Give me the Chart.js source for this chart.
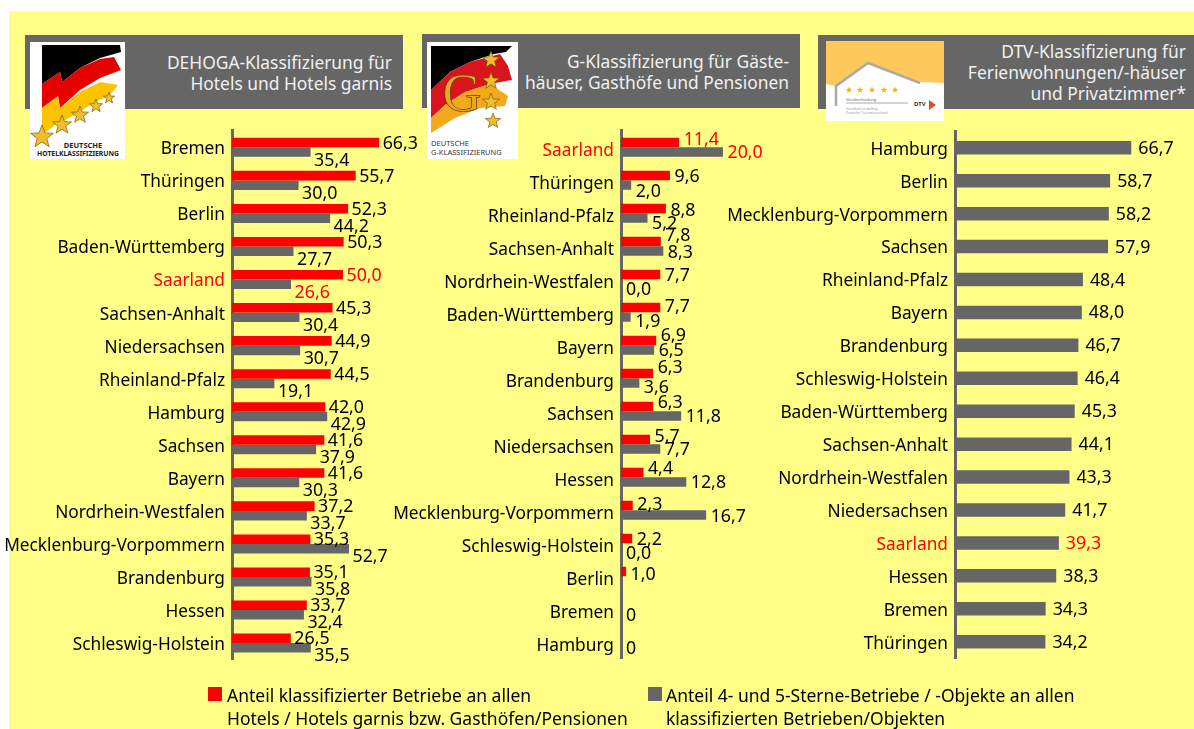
<!DOCTYPE html>
<html lang="de"><head><meta charset="utf-8">
<script src="https://cdn.jsdelivr.net/npm/chart.js@4/dist/chart.umd.min.js"></script>
<style>
html,body{margin:0;padding:0;background:#fff;width:1194px;height:729px;overflow:hidden}
body{position:relative;font-family:"Noto Sans",sans-serif;color:#000}
#bg{position:absolute;left:9px;top:11px;right:0;bottom:0;background:#ffff88}
.head{position:absolute;background:#666;height:74px}
.ttl{position:absolute;text-align:right;color:#f0f0f0;font-size:17.4px;line-height:21px;white-space:nowrap}
canvas{position:absolute;top:100px}
svg.logo{position:absolute;left:0;top:0}
.sq{position:absolute;width:14px;height:14px;top:687px}
.leg{position:absolute;top:684px;font-size:17.5px;line-height:23px;white-space:nowrap}
</style></head><body>
<div id="bg"></div>
<div class="head" style="left:25px;top:35px;width:378px"></div>
<div class="head" style="left:422px;top:34px;width:378px"></div>
<div class="head" style="left:818px;top:35px;width:376px"></div>
<div class="ttl" style="right:802px;top:52px">DEHOGA-Klassifizierung für<br>Hotels und Hotels garnis</div>
<div class="ttl" style="right:405px;top:51px">G-Klassifizierung für Gäste-<br>häuser, Gasthöfe und Pensionen</div>
<div class="ttl" style="right:8px;top:41px">DTV-Klassifizierung für<br>Ferienwohnungen/-häuser<br>und Privatzimmer*</div>
<svg class="logo" width="1194" height="200" id="logos">
  <rect x="30" y="42" width="95" height="117" fill="#fff"/>
  <polygon points="42,45 120,45 121,52 100,58 80,68 62,82 60,72 42,84" fill="#000"/>
  <polygon points="42,84 60,72 62,82 80,68 100,59 114,57 121,70 100,78 80,90 60,108 58,96 42,108" fill="#e60000"/>
  <polygon points="42,108 58,96 60,108 80,92 100,82 118,85 110,95 90,105 75,115 55,125 42,135" fill="#fdc300"/>
  <text x="83" y="148" font-size="7.5" font-weight="700" text-anchor="middle" fill="#222" font-family="Noto Sans">DEUTSCHE</text>
  <text x="78" y="156" font-size="6.8" font-weight="700" text-anchor="middle" fill="#222" font-family="Noto Sans">HOTELKLASSIFIZIERUNG</text>
  <rect x="427" y="42" width="91" height="117" fill="#fff"/>
  <polygon points="431,46 512,46 506,52 494,54 470,62 450,72 431,90" fill="#000"/>
  <polygon points="431,90 450,72 470,62 500,54 508,66 512,80 490,84 465,92 445,105 431,118" fill="#d8141c"/>
  <polygon points="431,118 445,105 465,92 490,84 508,96 505,106 480,108 455,118 431,133" fill="#f4a81c"/>
  <text x="462" y="111" font-size="54" text-anchor="middle" fill="#e8a820" stroke="#5a4010" stroke-width=".7" font-family="Liberation Serif">G</text>
  <text x="431" y="146" font-size="7.5" fill="#333" font-family="Noto Sans">DEUTSCHE</text>
  <text x="431" y="155" font-size="7.5" fill="#333" font-family="Noto Sans">G-KLASSIFIZIERUNG</text>
  <rect x="826" y="41" width="118" height="80" fill="#fff"/>
  <polygon points="826,41 944,41 944,83 920,82 868,63 836,86 826,84" fill="#fdc95c"/>
  <polyline points="836,106 836,86 868,63 920,83" fill="none" stroke="#aaa" stroke-width="2.5"/>
  <line x1="846" y1="103" x2="908" y2="103" stroke="#aaa" stroke-width="1"/>
  <text x="846" y="101" font-size="4" fill="#666" font-family="Noto Sans">Verabschiedung</text>
  <text x="846" y="110" font-size="3" fill="#999" font-family="Noto Sans">Klassifiziert im Auftrag</text>
  <text x="846" y="114" font-size="3" fill="#999" font-family="Noto Sans">Deutscher Tourismusverband</text>
  <text x="914" y="106" font-size="6" font-weight="700" fill="#333" font-family="Noto Sans">DTV</text>
  <polygon points="929,100 936,105 929,110" fill="#d8501c"/>
</svg>
<canvas id="c1" width="430" height="600" style="left:0"></canvas>
<canvas id="c2" width="400" height="600" style="left:390px"></canvas>
<canvas id="c3" width="474" height="600" style="left:720px"></canvas>
<div class="sq" style="left:208px;background:#f00"></div>
<div class="leg" style="left:227px">Anteil klassifizierter Betriebe an allen<br>Hotels / Hotels garnis bzw. Gasthöfen/Pensionen</div>
<div class="sq" style="left:648px;background:#666"></div>
<div class="leg" style="left:666px">Anteil 4- und 5-Sterne-Betriebe / -Objekte an allen<br>klassifizierten Betrieben/Objekten</div>
<script>
// ---- data ----
const dehogaStates = ["Bremen","Thüringen","Berlin","Baden-Württemberg","Saarland","Sachsen-Anhalt","Niedersachsen","Rheinland-Pfalz","Hamburg","Sachsen","Bayern","Nordrhein-Westfalen","Mecklenburg-Vorpommern","Brandenburg","Hessen","Schleswig-Holstein"];
const dehogaShare = [66.3,55.7,52.3,50.3,50.0,45.3,44.9,44.5,42.0,41.6,41.6,37.2,35.3,35.1,33.7,26.5];
const dehogaTop = [35.4,30.0,44.2,27.7,26.6,30.4,30.7,19.1,42.9,37.9,30.3,33.7,52.7,35.8,32.4,35.5];

const gStates = ["Saarland","Thüringen","Rheinland-Pfalz","Sachsen-Anhalt","Nordrhein-Westfalen","Baden-Württemberg","Bayern","Brandenburg","Sachsen","Niedersachsen","Hessen","Mecklenburg-Vorpommern","Schleswig-Holstein","Berlin","Bremen","Hamburg"];
const gShare = [11.4,9.6,8.8,7.8,7.7,7.7,6.9,6.3,6.3,5.7,4.4,2.3,2.2,1.0,0,0];
const gTop = [20.0,2.0,5.2,8.3,0.0,1.9,6.5,3.6,11.8,7.7,12.8,16.7,0.0,null,null,null];

const dtvStates = ["Hamburg","Berlin","Mecklenburg-Vorpommern","Sachsen","Rheinland-Pfalz","Bayern","Brandenburg","Schleswig-Holstein","Baden-Württemberg","Sachsen-Anhalt","Nordrhein-Westfalen","Niedersachsen","Saarland","Hessen","Bremen","Thüringen"];
const dtvTop = [66.7,58.7,58.2,57.9,48.4,48.0,46.7,46.4,45.3,44.1,43.3,41.7,39.3,38.3,34.3,34.2];

// label placement tweaks (style only, px relative to the bar middle)
const gShareNudge = [-4,0,1,-6.5,0,-1.5,-6,-6.5,-5,-4,-5,-1.5,0,2,10,10];
const gTopNudge = [0,5.5,5,1,5,3.5,0,4,0,0,0,1,5,0,0,0];
const dehogaShareNudge = dehogaShare.map(()=>0);
const dehogaTopNudge = dehogaTop.map(()=>7.5);

const RED='#ff0000', GREY='#666666', FONT='"Noto Sans", sans-serif', TICK_FS=17.3, VALUE_FS=17.8;
const fmt = v => v===0 ? '0' : v.toFixed(1).replace('.',',');
const fmt0 = v => v.toFixed(1).replace('.',',');

const valueLabels = {
  id:'valueLabels',
  afterDatasetsDraw(chart,args,o){
    const {ctx}=chart; ctx.save();
    ctx.font=`${VALUE_FS}px ${FONT}`; ctx.textBaseline='middle'; ctx.textAlign='left';
    chart.data.datasets.forEach((ds,i)=>{
      chart.getDatasetMeta(i).data.forEach((el,j)=>{
        const v=ds.data[j]; if(v===null) return;
        const st=chart.data.labels[j];
        ctx.fillStyle= st==='Saarland'?RED:'#000';
        const txt=(ds.zeroPlain?fmt:fmt0)(v);
        const dx = v===0 ? 5 : o.dx;
        ctx.fillText(txt, el.x+dx, el.y+ds.nudge[j]+1);
      });
    });
    ctx.restore();
  }
};

function panel(id,cfg){
  const cv=document.getElementById(id);
  const areaW=cv.width-cfg.axisX-20;
  return new Chart(cv,{
    type:'bar',
    data:{labels:cfg.labels,datasets:cfg.series.map(s=>({
      data:s.data,backgroundColor:s.color,nudge:s.nudge,zeroPlain:s.zeroPlain,
      categoryPercentage:cfg.cat,barPercentage:1,borderWidth:0}))},
    plugins:[valueLabels],
    options:{
      indexAxis:'y',responsive:false,animation:false,devicePixelRatio:1,
      layout:{padding:{top:cfg.top-100,bottom:700-cfg.bottom,right:20,left:0}},
      plugins:{legend:{display:false},tooltip:{enabled:false},valueLabels:{dx:cfg.dx}},
      scales:{
        x:{display:false,min:0,max:areaW/cfg.ppu},
        y:{
          afterFit:s=>{s.width=cfg.axisX;},
          border:{color:GREY,width:3},
          grid:{drawOnChartArea:false,drawTicks:false},
          ticks:{padding:7,autoSkip:false,labelOffset:cfg.tickShift,
            font:{family:FONT,size:TICK_FS},
            color:c=>cfg.labels[c.index]==='Saarland'?RED:'#000'}
        }
      }
    }
  });
}
Chart.defaults.font.family=FONT;
panel('c1',{labels:dehogaStates,axisX:232,ppu:2.22,top:130.8,bottom:659.6,cat:.575,dx:3.5,tickShift:2,
  series:[{data:dehogaShare,color:RED,nudge:dehogaShareNudge},{data:dehogaTop,color:GREY,nudge:dehogaTopNudge}]});
panel('c2',{labels:gStates,axisX:231,ppu:5.1,top:130.8,bottom:658.8,cat:.575,dx:4.5,tickShift:4,
  series:[{data:gShare,color:RED,nudge:gShareNudge,zeroPlain:true},{data:gTop,color:GREY,nudge:gTopNudge}]});
panel('c3',{labels:dtvStates,axisX:235,ppu:2.643,top:131.3,bottom:658.2,cat:.41,dx:7,tickShift:2,
  series:[{data:dtvTop,color:GREY,nudge:dtvTop.map(()=>0)}]});

// logo stars
const NS='http://www.w3.org/2000/svg', logos=document.getElementById('logos');
const stars=[[42,137,12],[62,125,10],[80,115,9],[96,106,7],[109,98,6],[491,60,9],[491,81,9],[491,102,9],[493,121,8],
 [849,90,3.5],[860,90,3.5],[872,90,3.5],[884,90,3.5],[895,90,3.5]];
stars.forEach(([x,y,r])=>{
  const p=document.createElementNS(NS,'polygon'); let pts=[];
  for(let k=0;k<10;k++){const a=-Math.PI/2+k*Math.PI/5,R=k%2?r*.42:r;pts.push((x+R*Math.cos(a)).toFixed(1)+','+(y+R*Math.sin(a)).toFixed(1));}
  p.setAttribute('points',pts.join(' '));p.setAttribute('fill',r<4?'#f5b800':'#f2bd2a');
  if(r>=4){p.setAttribute('stroke','#5a4a10');p.setAttribute('stroke-width','.6');}
  logos.appendChild(p);
});
</script>
</body></html>
